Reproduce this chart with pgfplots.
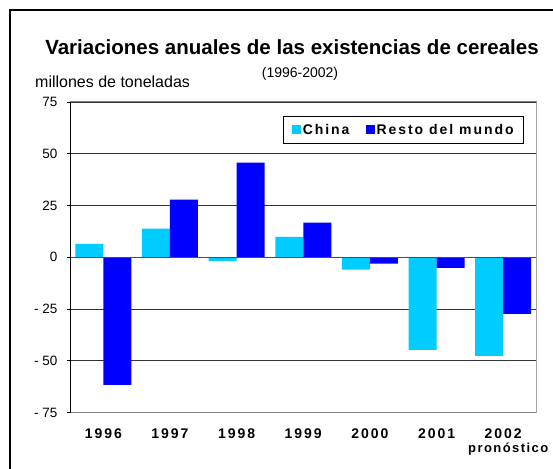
\documentclass[border=0pt]{standalone}
\usepackage{pgfplots}
\pgfplotsset{compat=1.18}
\usepackage{fontspec}
\setmainfont{Liberation Sans}
\newfontfamily\lsfont[LetterSpace=14]{Liberation Sans}
\newfontfamily\lsfontb[LetterSpace=11]{Liberation Sans}
\definecolor{chinac}{HTML}{00CCFF}
\definecolor{restoc}{HTML}{0000FF}
\definecolor{gridc}{HTML}{333333}
\begin{document}
\begin{tikzpicture}[x=1pt,y=1pt]
\useasboundingbox (0,0) rectangle (553,468);
\fill[white] (0,0) rectangle (553,468);
\draw[line width=2pt] (10,-5) -- (10,458) -- (560,458);
\node[anchor=base, font=\bfseries\fontsize{20.5}{24}\selectfont, inner sep=0] at (292,413) {Variaciones anuales de las existencias de cereales};
\node[anchor=base, font=\fontsize{14}{16}\selectfont, inner sep=0] at (300,390) {(1996-2002)};
\node[anchor=base west, font=\fontsize{16}{18}\selectfont, inner sep=0] at (35,380) {millones de toneladas};
\begin{axis}[
  at={(70pt,55.5pt)}, anchor=south west, scale only axis,
  width=466.5pt, height=310.5pt,
  clip=false,
  xmin=-0.5, xmax=6.5, ymin=-75, ymax=75,
  ybar, bar width=28pt,
  ytick={-75,-50,-25,0,25,50,75},
  yticklabels={- 75,- 50,- 25,0,25,50,75},
  xtick={0,1,2,3,4,5,6},
  xticklabels={1996,1997,1998,1999,2000,2001,2002},
  xtick style={draw=none},
  ytick pos=left,
  tick align=outside,
  major tick length=3.5pt,
  ytick style={black, line width=0.8pt},
  axis line style={draw=none},
  ymajorgrids, grid style={gridc, line width=0.7pt},
  yticklabel style={font=\fontsize{13.5}{15}\selectfont, anchor=east, inner sep=0pt, xshift=-9pt},
  xticklabel style={font=\lsfont\bfseries\fontsize{14}{16}\selectfont, anchor=base, inner sep=0pt, yshift=-22pt},
  legend style={at={(0.9732,0.955)}, anchor=north east, draw=black, line width=0.8pt,
    font=\lsfont\bfseries\fontsize{14}{16}\selectfont, inner xsep=8pt, inner ysep=5.5pt,
    /tikz/every even column/.append style={column sep=14pt}},
  legend columns=2,
  legend image code/.code={\fill[#1] (0pt,-4.5pt) rectangle (9pt,4.5pt);},
]
\addplot[fill=chinac, draw=none, bar shift=-14pt] coordinates {
  (0,6.5) (1,13.8) (2,-1.7) (3,9.9) (4,-6.0) (5,-44.7) (6,-47.6)};
\addplot[fill=restoc, draw=none, bar shift=14pt] coordinates {
  (0,-61.6) (1,27.8) (2,45.7) (3,16.7) (4,-3.1) (5,-5.1) (6,-27.3)};
\legend{China, Resto del mundo}
\draw[gray!60!black, line width=1pt] (axis cs:-0.5,0) -- (axis cs:6.5,0);
\draw[gray, line width=1pt] (rel axis cs:0,1) -- (rel axis cs:1,1);
\draw[gray, line width=1pt] (rel axis cs:0,0) -- (rel axis cs:1,0);
\draw[gray!70, line width=1.5pt] (rel axis cs:1,0) -- (rel axis cs:1,1);
\draw[black, line width=1pt] (rel axis cs:0,0) -- (rel axis cs:0,1);
\node[anchor=base, font=\lsfontb\bfseries\fontsize{13}{15}\selectfont, inner sep=0pt, yshift=-39.5pt, xshift=5pt] at (axis cs:6,-75) {pronóstico};
\end{axis}
\end{tikzpicture}
\end{document}
